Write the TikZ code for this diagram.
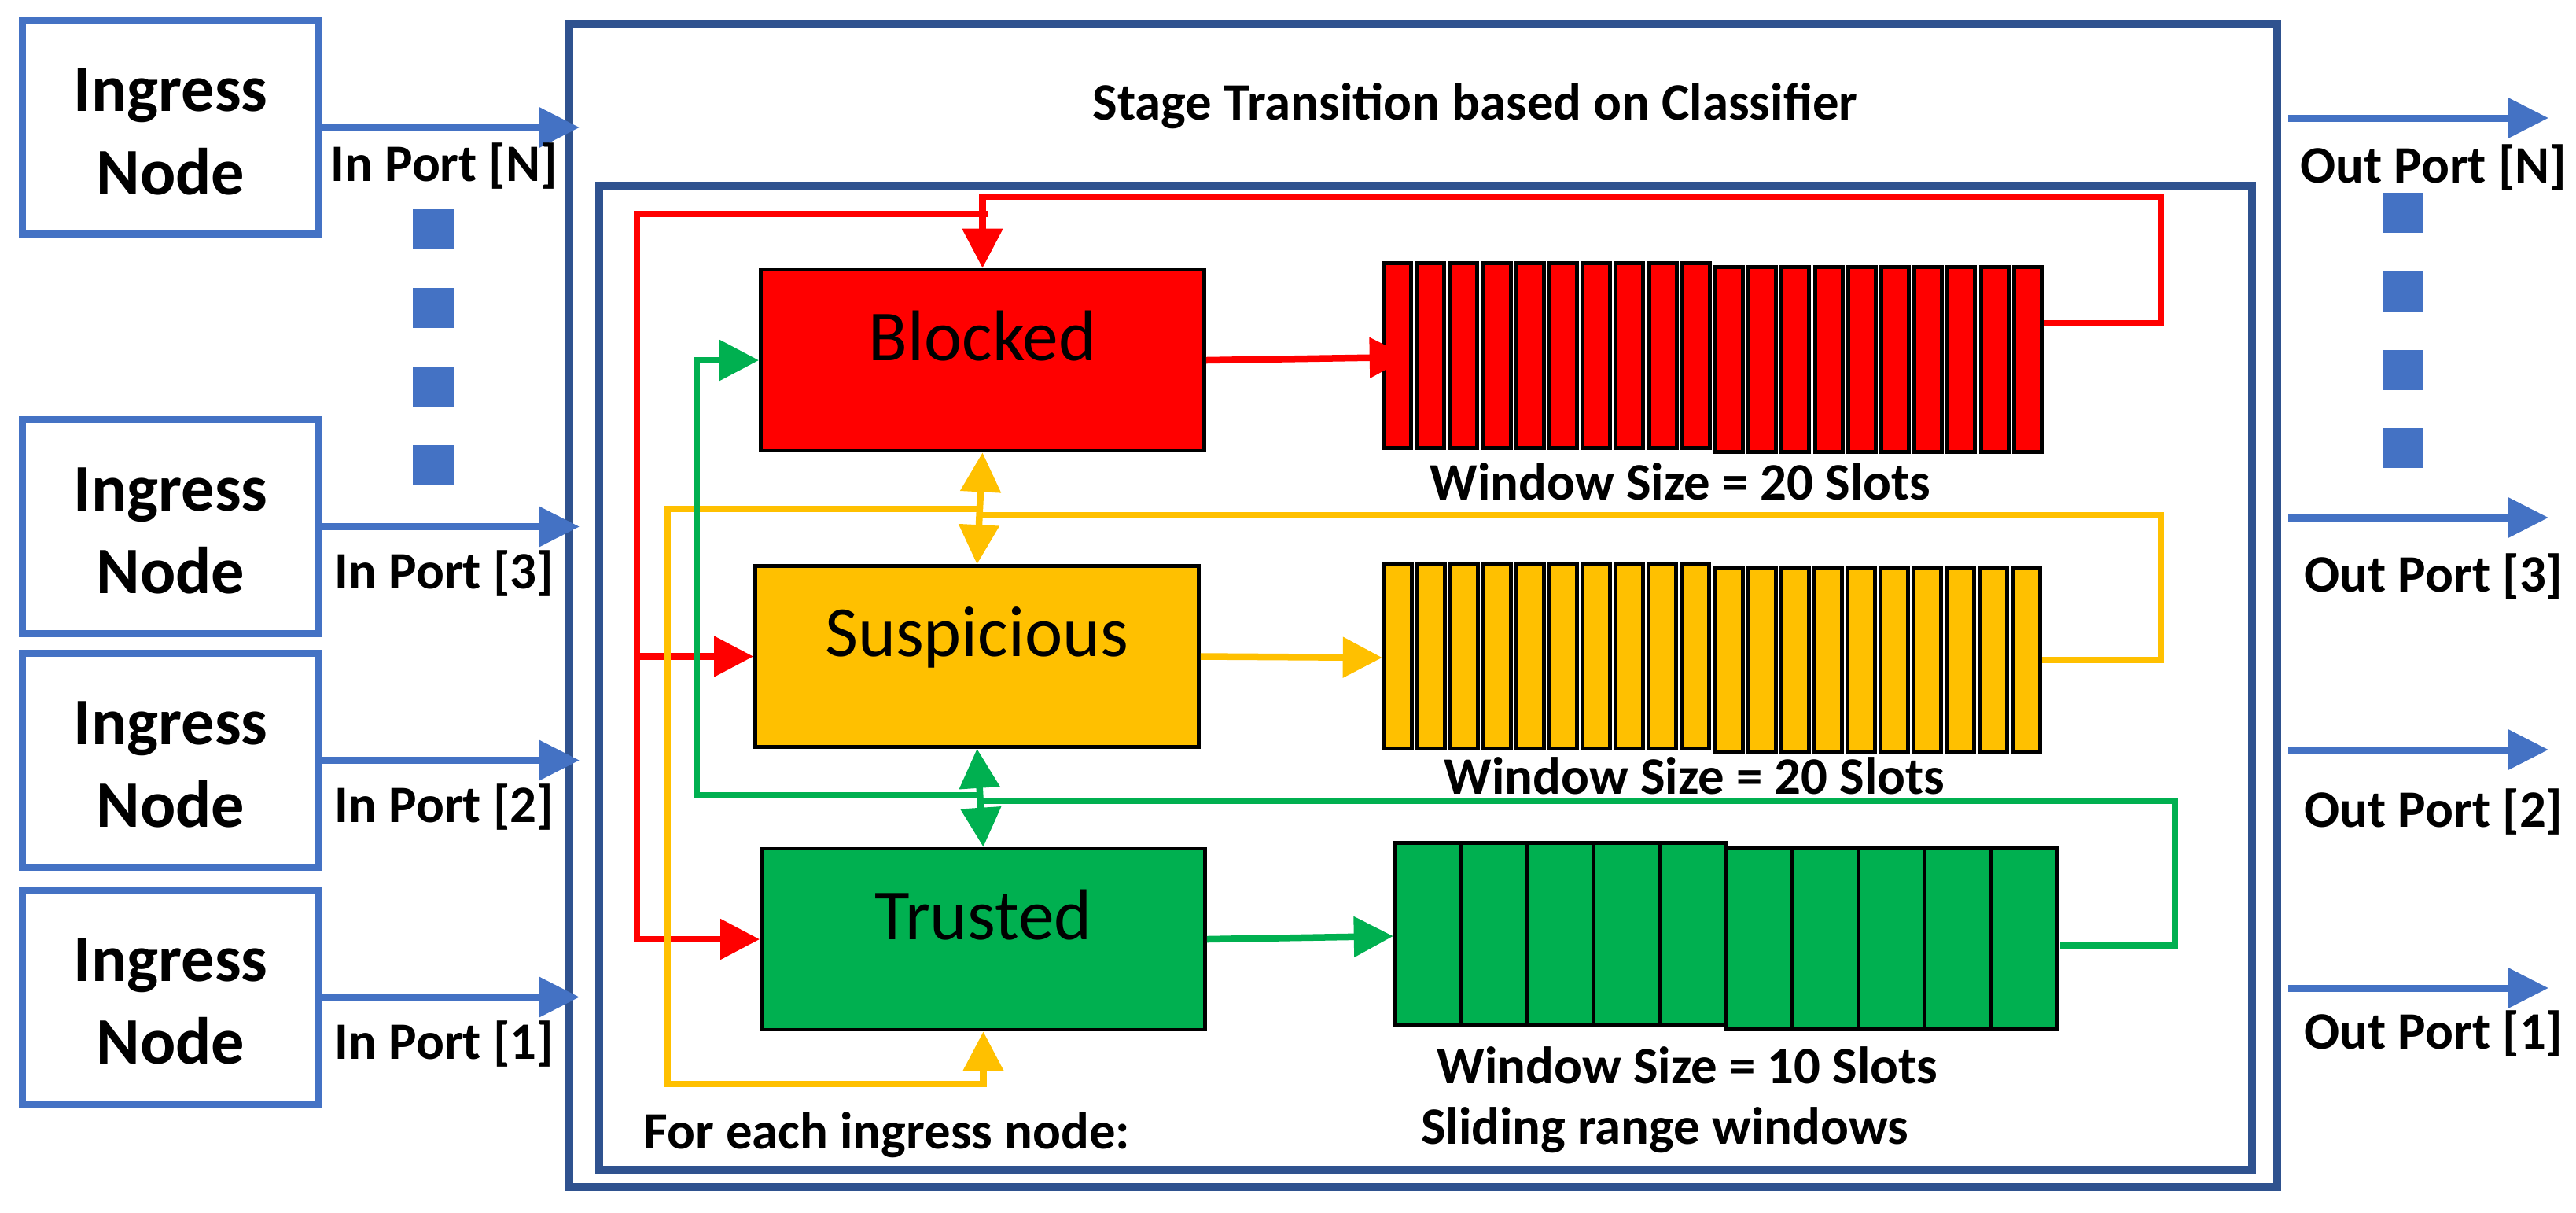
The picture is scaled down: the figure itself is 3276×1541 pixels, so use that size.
\documentclass[tikz,border=0pt]{standalone}
\usepackage{fontspec}
\setmainfont{Carlito}
\usetikzlibrary{arrows.meta}
\definecolor{portblue}{HTML}{4472C4}
\definecolor{frameblue}{HTML}{2F528F}
\definecolor{sred}{HTML}{FF0000}
\definecolor{syellow}{HTML}{FFC000}
\definecolor{sgreen}{HTML}{00B050}

\begin{document}
\begin{tikzpicture}[x=0.01cm, y=-0.01cm,
  ingressbox/.style={draw=portblue, line width=0.09cm, minimum width=3.76cm, minimum height=2.71cm, align=center, text height=1.71cm, font=\fontsize{24}{30}\selectfont\bfseries},
  portarrow/.style={draw=portblue, line width=0.09cm, -{Triangle[length=0.51cm,width=0.49cm]}},
  portlabel/.style={anchor=base, font=\fontsize{19}{23}\selectfont\bfseries},
  portdot/.style={fill=portblue, minimum width=0.52cm, minimum height=0.51cm, inner sep=0},
  framebox/.style={draw=frameblue, line width=0.1cm},
  statebox/.style={draw=black, line width=0.045cm, minimum width=5.64cm, minimum height=2.3cm, text height=0.6cm, text depth=0.6cm, font=\fontsize{26}{31}\selectfont},
  winbox/.style={inner sep=0, outer sep=0},
  slotbox/.style={draw=black, line width=0.05cm},
  winlabel/.style={anchor=base, font=\fontsize{19}{23}\selectfont\bfseries},
  flowline/.style={line width=0.085cm},
  flowarrow/.style={flowline, -{Triangle[length=0.5cm,width=0.5cm]}},
  flowboth/.style={flowline, {Triangle[length=0.5cm,width=0.5cm]}-{Triangle[length=0.5cm,width=0.5cm]}}]
\useasboundingbox (0,0) rectangle (3276,1541);

\draw[framebox] (724,31) rectangle (2896,1509);
\draw[framebox] (762,236) rectangle (2864,1487);
\node[winlabel] (title) at (1876,152) {Stage Transition based on Classifier};

\foreach \n/\y/\b in {N/162/230, 3/669.5/748, 2/966.5/1045, 1/1267.5/1346} {
  \node[ingressbox] (ing\n) at (217,\y) {Ingress\\Node};
  \coordinate (in\n) at (737,\y);
  \draw[portarrow] (ing\n.east) -- (in\n);
  \node[portlabel] (inlbl\n) at (565,\b) {In Port [\n]};
}
\foreach \y in {291,391,491,591}
  \node[portdot] (ldot\y) at (551,\y) {};

\foreach \n/\y/\b in {N/150/232, 3/658/752, 2/953/1051, 1/1256/1333} {
  \coordinate (outs\n) at (2910,\y);
  \coordinate (oute\n) at (3241,\y);
  \draw[portarrow] (outs\n) -- (oute\n);
  \node[portlabel] (outlbl\n) at (3095,\b) {Out Port [\n]};
}
\foreach \y in {270,370,470,569}
  \node[portdot] (rdot\y) at (3056,\y) {};

\node[statebox, fill=sred] (blocked) at (1249.5,458) {Blocked};
\node[statebox, fill=syellow] (susp) at (1242.5,834.5) {Suspicious};
\node[statebox, fill=sgreen] (trusted) at (1250.5,1194) {Trusted};

\node[winbox, minimum width=8.43cm, minimum height=2.45cm] (redwin) at (2178.5,454.5) {};
\foreach \i in {0,...,9}
  \draw[slotbox, fill=sred] (1759.5+42.2*\i,334.5) rectangle ++(35,235);
\foreach \i in {10,...,19}
  \draw[slotbox, fill=sred] (1759.5+42.2*\i,339.5) rectangle ++(35,235);
\node[winlabel] (redlbl) at (2137,635) {Window Size = 20 Slots};

\node[winbox, minimum width=8.39cm, minimum height=2.44cm] (ywin) at (2177.5,836) {};
\foreach \i in {0,...,9}
  \draw[slotbox, fill=syellow] (1760.5+42.05*\i,716.5) rectangle ++(35,235);
\foreach \i in {10,...,19}
  \draw[slotbox, fill=syellow] (1760.5+42.05*\i,722.5) rectangle ++(35,233);
\node[winlabel] (ylbl) at (2155,1009) {Window Size = 20 Slots};

\node[winbox, minimum width=8.5cm, minimum height=2.42cm] (gwin) at (2197,1190) {};
\foreach \i in {0,...,4}
  \draw[slotbox, fill=sgreen] (1774.5+84.1*\i,1071.5) rectangle ++(84.1,232);
\foreach \i in {5,...,9}
  \draw[slotbox, fill=sgreen] (1774.5+84.1*\i,1077.5) rectangle ++(84.1,231);
\node[winlabel] (glbl) at (2146,1377) {Window Size = 10 Slots};
\node[winlabel] (slide) at (2117,1454) {Sliding range windows};
\node[winlabel, anchor=base west] (foreach) at (806,1460) {For each ingress node:};

\coordinate (redback) at (2600,411);
\coordinate (redtop) at (2748,250);
\coordinate (redsplit) at (1257,272);
\coordinate (redleft) at (810,834.5);
\draw[flowarrow, sred] (redback) -| (redtop) -| (blocked.north);
\draw[flowarrow, sred] (redsplit) -| (redleft) -- (susp.west);
\draw[flowarrow, sred] (redleft) |- (trusted.west);
\draw[flowarrow, sred, shorten >=-0.35cm] (blocked.east) -- (redwin.west);

\coordinate (yback) at (2597,839);
\coordinate (ytop) at (2748,655);
\coordinate (yjoin) at (1249,655);
\coordinate (ysplit) at (1249,647);
\coordinate (ybottom) at (849,1378);
\draw[flowline, syellow] (yback) -| (ytop) -- (yjoin);
\draw[flowboth, syellow] (blocked.south) -- (susp.north);
\draw[flowarrow, syellow] (ysplit) -| (ybottom) -| (trusted.south);
\draw[flowarrow, syellow] (susp.east) -- (ywin.west);

\coordinate (gback) at (2620,1202);
\coordinate (gtop) at (2766,1018);
\coordinate (gjoin) at (1249,1018);
\coordinate (gsplit) at (1249,1011);
\coordinate (gleft) at (886,458);
\draw[flowline, sgreen] (gback) -| (gtop) -- (gjoin);
\draw[flowboth, sgreen] (susp.south) -- (trusted.north);
\draw[flowarrow, sgreen] (gsplit) -| (gleft) -- (blocked.west);
\draw[flowarrow, sgreen] (trusted.east) -- (gwin.west);
\end{tikzpicture}
\end{document}
